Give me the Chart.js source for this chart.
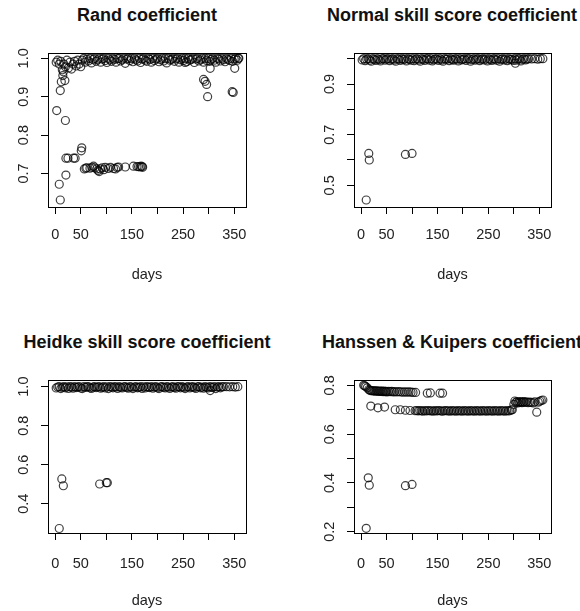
<!DOCTYPE html>
<html><head><meta charset="utf-8">
<script src="https://cdn.jsdelivr.net/npm/chart.js@4.4.1/dist/chart.umd.min.js"></script>
<style>
html,body{margin:0;padding:0;background:#fff;width:580px;height:611px;overflow:hidden;}
#wrap{position:relative;width:580px;height:611px;}
canvas{position:absolute;}
.t{position:absolute;transform:translate(-50%,-50%);white-space:nowrap;font:bold 18px "Liberation Sans",Arial,sans-serif;color:#111;}
</style></head><body><div id="wrap">
<div class="t" style="left:147px;top:15px">Rand coefficient</div>
<div class="t" style="left:452px;top:15px">Normal skill score coefficient</div>
<div class="t" style="left:147px;top:342px">Heidke skill score coefficient</div>
<div class="t" style="left:452px;top:342px">Hanssen &amp; Kuipers coefficient</div>
<canvas id="c1" width="290" height="300" style="left:0;top:0"></canvas>
<canvas id="c2" width="290" height="300" style="left:290px;top:0"></canvas>
<canvas id="c3" width="290" height="311" style="left:0;top:300px"></canvas>
<canvas id="c4" width="290" height="311" style="left:290px;top:300px"></canvas>
</div>
<script>
// ---------------- data ----------------
const xTicks = [0,50,100,150,200,250,300,350];
const xLabels = [0,50,150,250,350];

const bandDays = [
2,5,8,11,14,17,20,23,26,29,
32,35,38,41,44,47,50,53,56,59,
62,65,68,71,74,77,80,83,86,89,
92,95,98,101,104,107,110,113,116,119,
122,125,128,131,134,137,140,143,146,149,
152,155,158,161,164,167,170,173,176,179,
182,185,188,191,194,197,200,203,206,209,
212,215,218,221,224,227,230,233,236,239,
242,245,248,251,254,257,260,263,266,269,
272,275,278,281,284,287,290,293,296,299,
302,305,308,311,314,317,320,323,326,329,
332,335,338,341,344,347,350,353,356,359];

// Rand coefficient
const randBand = [
0.990,0.995,0.985,0.992,0.970,0.985,0.978,0.995,0.975,0.990,
0.972,0.985,0.992,0.980,0.995,0.985,0.978,
0.995,1.000,0.990,0.998,0.993,1.000,0.988,0.997,1.000,0.992,
0.996,1.000,0.990,0.998,1.000,0.994,0.989,1.000,0.996,0.992,
1.000,0.997,0.990,0.999,1.000,0.993,0.996,1.000,0.987,0.998,
1.000,0.994,0.999,0.991,1.000,0.996,0.993,1.000,0.989,0.998,
1.000,0.995,0.992,1.000,0.997,0.990,1.000,0.994,0.998,1.000,
0.991,0.996,1.000,0.993,0.999,0.988,1.000,0.995,0.997,1.000,
0.992,0.998,1.000,0.990,0.996,1.000,0.994,0.999,0.991,1.000,
0.995,0.997,1.000,0.989,0.998,1.000,0.993,0.996,1.000,0.990,
0.999,0.994,1.000,0.992,0.997,1.000,0.995,0.990,1.000,0.998,
0.993,1.000,0.996,0.991,1.000,0.997,0.994,1.000,0.992,0.998,
1.000,0.995,1.000];
const randOther = [
[3,0.864],[8,0.672],[10,0.631],[10,0.916],[12,0.939],[15,0.955],[16,0.965],[19,0.942],[20,0.838],
[21,0.696],[21,0.740],[25,0.740],[36,0.740],[39,0.740],[51,0.759],[52,0.767],
[57,0.712],[60,0.714],[62,0.715],[68,0.714],[72,0.716],[75,0.719],[78,0.715],[81,0.712],[84,0.708],
[86,0.705],[88,0.712],[92,0.715],[95,0.710],[98,0.716],[104,0.713],[108,0.716],[114,0.713],[118,0.712],
[121,0.716],[124,0.717],[137,0.717],[153,0.719],[160,0.718],[163,0.718],[166,0.717],[168,0.719],
[170,0.718],[171,0.716],
[254,0.989],[290,0.945],[293,0.940],[296,0.932],[298,0.900],[303,0.974],[346,0.913],[348,0.911],
[351,0.974],[358,1.000]];

// Normal skill score coefficient
const nssBand = [
0.995,1.000,0.992,0.998,1.000,0.994,0.990,1.000,0.997,0.993,
1.000,0.996,0.991,0.999,1.000,0.994,0.998,1.000,0.992,0.997,
1.000,0.995,0.990,1.000,0.998,0.993,1.000,0.996,0.999,0.991,
1.000,0.997,0.994,1.000,0.992,0.998,1.000,0.995,0.990,1.000,
0.997,0.993,1.000,0.999,0.994,1.000,0.991,0.996,1.000,0.998,
0.993,1.000,0.995,0.990,1.000,0.997,0.999,0.992,1.000,0.996,
0.994,1.000,0.998,0.991,1.000,0.995,0.997,1.000,0.993,0.999,
1.000,0.990,0.996,1.000,0.994,0.998,1.000,0.992,0.997,1.000,
0.995,0.999,0.991,1.000,0.996,0.993,1.000,0.998,0.994,1.000,
0.990,0.997,1.000,0.995,0.999,0.992,1.000,0.996,0.998,0.993,
1.000,0.994,0.999,1.000,0.991,0.997,1.000,0.995,0.998,1.000];
const nssOther = [[10,0.442],[15,0.626],[16,0.600],[87,0.622],[100,0.626],[303,0.982],
[335,0.999],[341,1.000],[347,0.998],[352,1.000],[357,1.000]];

// Heidke skill score coefficient
const hssBand = [
0.993,0.998,1.000,0.990,0.996,1.000,0.994,0.999,0.991,1.000,
0.997,0.992,1.000,0.995,0.998,1.000,0.993,0.990,1.000,0.996,
0.999,1.000,0.994,0.991,0.997,1.000,0.995,0.998,1.000,0.992,
0.996,1.000,0.993,0.999,0.990,1.000,0.997,0.994,1.000,0.998,
0.991,1.000,0.996,0.993,0.999,1.000,0.995,0.992,1.000,0.997,
0.990,0.998,1.000,0.994,0.996,1.000,0.991,0.999,0.993,1.000,
0.997,0.995,1.000,0.992,0.998,1.000,0.994,0.990,0.999,1.000,
0.996,0.993,1.000,0.997,0.991,0.998,1.000,0.995,0.992,1.000,
0.999,0.994,1.000,0.996,0.990,0.998,1.000,0.993,0.997,1.000,
0.995,0.991,0.999,1.000,0.994,0.998,0.992,1.000,0.996,0.993,
1.000,0.997,0.995,1.000,0.990,0.998,1.000,0.994,0.999,1.000];
const hssOther = [[8,0.273],[13,0.527],[16,0.492],[87,0.501],[100,0.508],[102,0.508],[303,0.980],
[335,1.000],[341,0.999],[347,1.000],[352,0.998],[357,1.000]];

// Hanssen & Kuipers coefficient
const hkUpper = [
[5,0.800],[7,0.798],[9,0.795],[12,0.790],[15,0.783],[17,0.780],[19,0.778],[21,0.779],[23,0.777],
[25,0.778],[27,0.776],[29,0.778],[31,0.776],[33,0.777],[35,0.775],[37,0.777],[39,0.775],[41,0.776],
[43,0.774],[45,0.776],[47,0.774],[49,0.775],[51,0.773],[54,0.775],[57,0.774],[60,0.775],[63,0.773],
[66,0.774],[70,0.773],[74,0.774],[78,0.773],[82,0.772],[86,0.773],[90,0.772],[94,0.773],[98,0.772],
[102,0.771],[107,0.771],[130,0.768],[136,0.769],[155,0.768],[160,0.768]];
const hkLower = [
[19,0.715],[33,0.708],[46,0.711],[67,0.700],[77,0.700],[87,0.698],[96,0.697],[106,0.696],[109,0.697],
[112,0.695],[115,0.697],[118,0.696],[121,0.694],[124,0.697],[127,0.695],[130,0.696],[133,0.697],
[136,0.695],[139,0.696],[142,0.694],[145,0.697],[148,0.695],[151,0.696],[154,0.697],[157,0.695],
[160,0.694],[163,0.696],[166,0.697],[169,0.695],[172,0.696],[175,0.694],[178,0.697],[181,0.695],
[184,0.696],[187,0.694],[190,0.697],[193,0.695],[196,0.696],[199,0.694],[202,0.697],[205,0.695],
[208,0.696],[211,0.694],[214,0.697],[217,0.695],[220,0.696],[223,0.694],[226,0.697],[229,0.695],
[232,0.696],[235,0.694],[238,0.697],[241,0.695],[244,0.696],[247,0.694],[250,0.697],[253,0.695],
[256,0.696],[259,0.694],[262,0.697],[265,0.695],[268,0.696],[271,0.694],[274,0.697],[277,0.695],
[280,0.696],[283,0.694],[286,0.697],[289,0.695],[292,0.696],[295,0.699]];
const hkRight = [
[297,0.700],[300,0.722],[302,0.736],[304,0.730],[306,0.733],[308,0.728],[310,0.732],[312,0.730],
[314,0.733],[316,0.729],[318,0.731],[320,0.733],[322,0.730],[325,0.732],[328,0.729],[331,0.731],
[334,0.730],[338,0.728],[341,0.732],[345,0.690],[348,0.731],[351,0.735],[354,0.738],[357,0.740]];
const hkOther = [[10,0.214],[14,0.421],[16,0.391],[87,0.389],[100,0.394]];

// ---------------- drawing ----------------
const FONT = '"Liberation Sans", Arial, sans-serif';
const X_MIN = -14, X_MAX = 373;

const pairs = (arr) => arr.map(p => ({x: p[0], y: p[1]}));
const band = (vals) => vals.map((v, i) => ({x: bandDays[i], y: v}));

const boxPlugin = {
  id: 'rbox',
  afterDraw(chart, args, opts) {
    const ctx = chart.ctx, a = chart.chartArea;
    ctx.save();
    ctx.strokeStyle = '#000';
    ctx.lineWidth = 1;
    ctx.strokeRect(Math.round(a.left) + 0.5, Math.round(a.top) + 0.5,
                   Math.round(a.right - a.left), Math.round(a.bottom - a.top));
    const ys = chart.scales.y;
    ctx.fillStyle = '#222';
    ctx.font = '14.5px ' + FONT;
    ctx.textAlign = 'center';
    ctx.textBaseline = 'middle';
    (opts.labels || []).forEach(v => {
      const y = ys.getPixelForValue(v);
      ctx.save();
      ctx.translate(a.left - 24, y);
      ctx.rotate(-Math.PI / 2);
      ctx.fillText(v.toFixed(1), 0, 0);
      ctx.restore();
    });
    ctx.restore();
  }
};

function makeChart(id, p) {
  const gridOpt = {display: true, drawOnChartArea: false, drawTicks: true, tickLength: 7, color: '#000', lineWidth: 1};
  new Chart(document.getElementById(id), {
    type: 'scatter',
    data: {datasets: [{
      data: p.points,
      showLine: false,
      pointStyle: 'circle',
      pointRadius: 4,
      pointHoverRadius: 4,
      pointBorderWidth: 1.2,
      borderColor: 'rgba(0,0,0,0.75)',
      backgroundColor: 'rgba(0,0,0,0)',
      clip: 10
    }]},
    options: {
      responsive: false, animation: false, devicePixelRatio: 1,
      events: [],
      layout: {padding: {top: p.padTop, right: p.padRight, left: 0, bottom: 0}},
      plugins: {legend: {display: false}, tooltip: {enabled: false}, rbox: {labels: p.yLabels}},
      scales: {
        x: {
          type: 'linear', min: X_MIN, max: X_MAX,
          afterBuildTicks: s => { s.ticks = xTicks.map(v => ({value: v})); },
          afterFit: s => { s.height = p.xH; },
          grid: gridOpt,
          border: {display: true, color: '#000', width: 1},
          ticks: {autoSkip: false, maxRotation: 0, minRotation: 0, padding: p.xLabPad, color: '#222',
                  font: {family: FONT, size: 14.5},
                  callback: v => xLabels.includes(v) ? String(v) : ''},
          title: {display: true, text: 'days', color: '#222', font: {family: FONT, size: 14.5},
                  padding: {top: 0, bottom: p.titlePad}}
        },
        y: {
          type: 'linear', min: p.yMin, max: p.yMax,
          afterBuildTicks: s => { s.ticks = p.yTicks.map(v => ({value: v})); },
          afterFit: s => { s.width = p.yW; },
          grid: gridOpt,
          border: {display: true, color: '#000', width: 1},
          ticks: {display: false}
        }
      }
    },
    plugins: [boxPlugin]
  });
}

makeChart('c1', {
  points: band(randBand).concat(pairs(randOther)),
  yMin: 0.6128, yMax: 1.0138, yTicks: [0.7,0.8,0.9,1.0], yLabels: [0.7,0.8,0.9,1.0],
  yW: 48, padTop: 53, padRight: 44, xH: 93, xLabPad: 12, titlePad: 16
});
makeChart('c2', {
  points: band(nssBand).concat(pairs(nssOther)),
  yMin: 0.4144, yMax: 1.0224, yTicks: [0.5,0.6,0.7,0.8,0.9,1.0], yLabels: [0.5,0.7,0.9],
  yW: 64, padTop: 53, padRight: 29, xH: 93, xLabPad: 12, titlePad: 16
});
makeChart('c3', {
  points: band(hssBand).concat(pairs(hssOther)),
  yMin: 0.250, yMax: 1.034, yTicks: [0.4,0.6,0.8,1.0], yLabels: [0.4,0.6,0.8,1.0],
  yW: 48, padTop: 80, padRight: 44, xH: 78, xLabPad: 15, titlePad: 1
});
makeChart('c4', {
  points: pairs(hkUpper).concat(pairs(hkLower), pairs(hkRight), pairs(hkOther)),
  yMin: 0.195, yMax: 0.822, yTicks: [0.2,0.3,0.4,0.5,0.6,0.7,0.8], yLabels: [0.2,0.4,0.6,0.8],
  yW: 64, padTop: 80, padRight: 29, xH: 78, xLabPad: 15, titlePad: 1
});
</script>
</body></html>
